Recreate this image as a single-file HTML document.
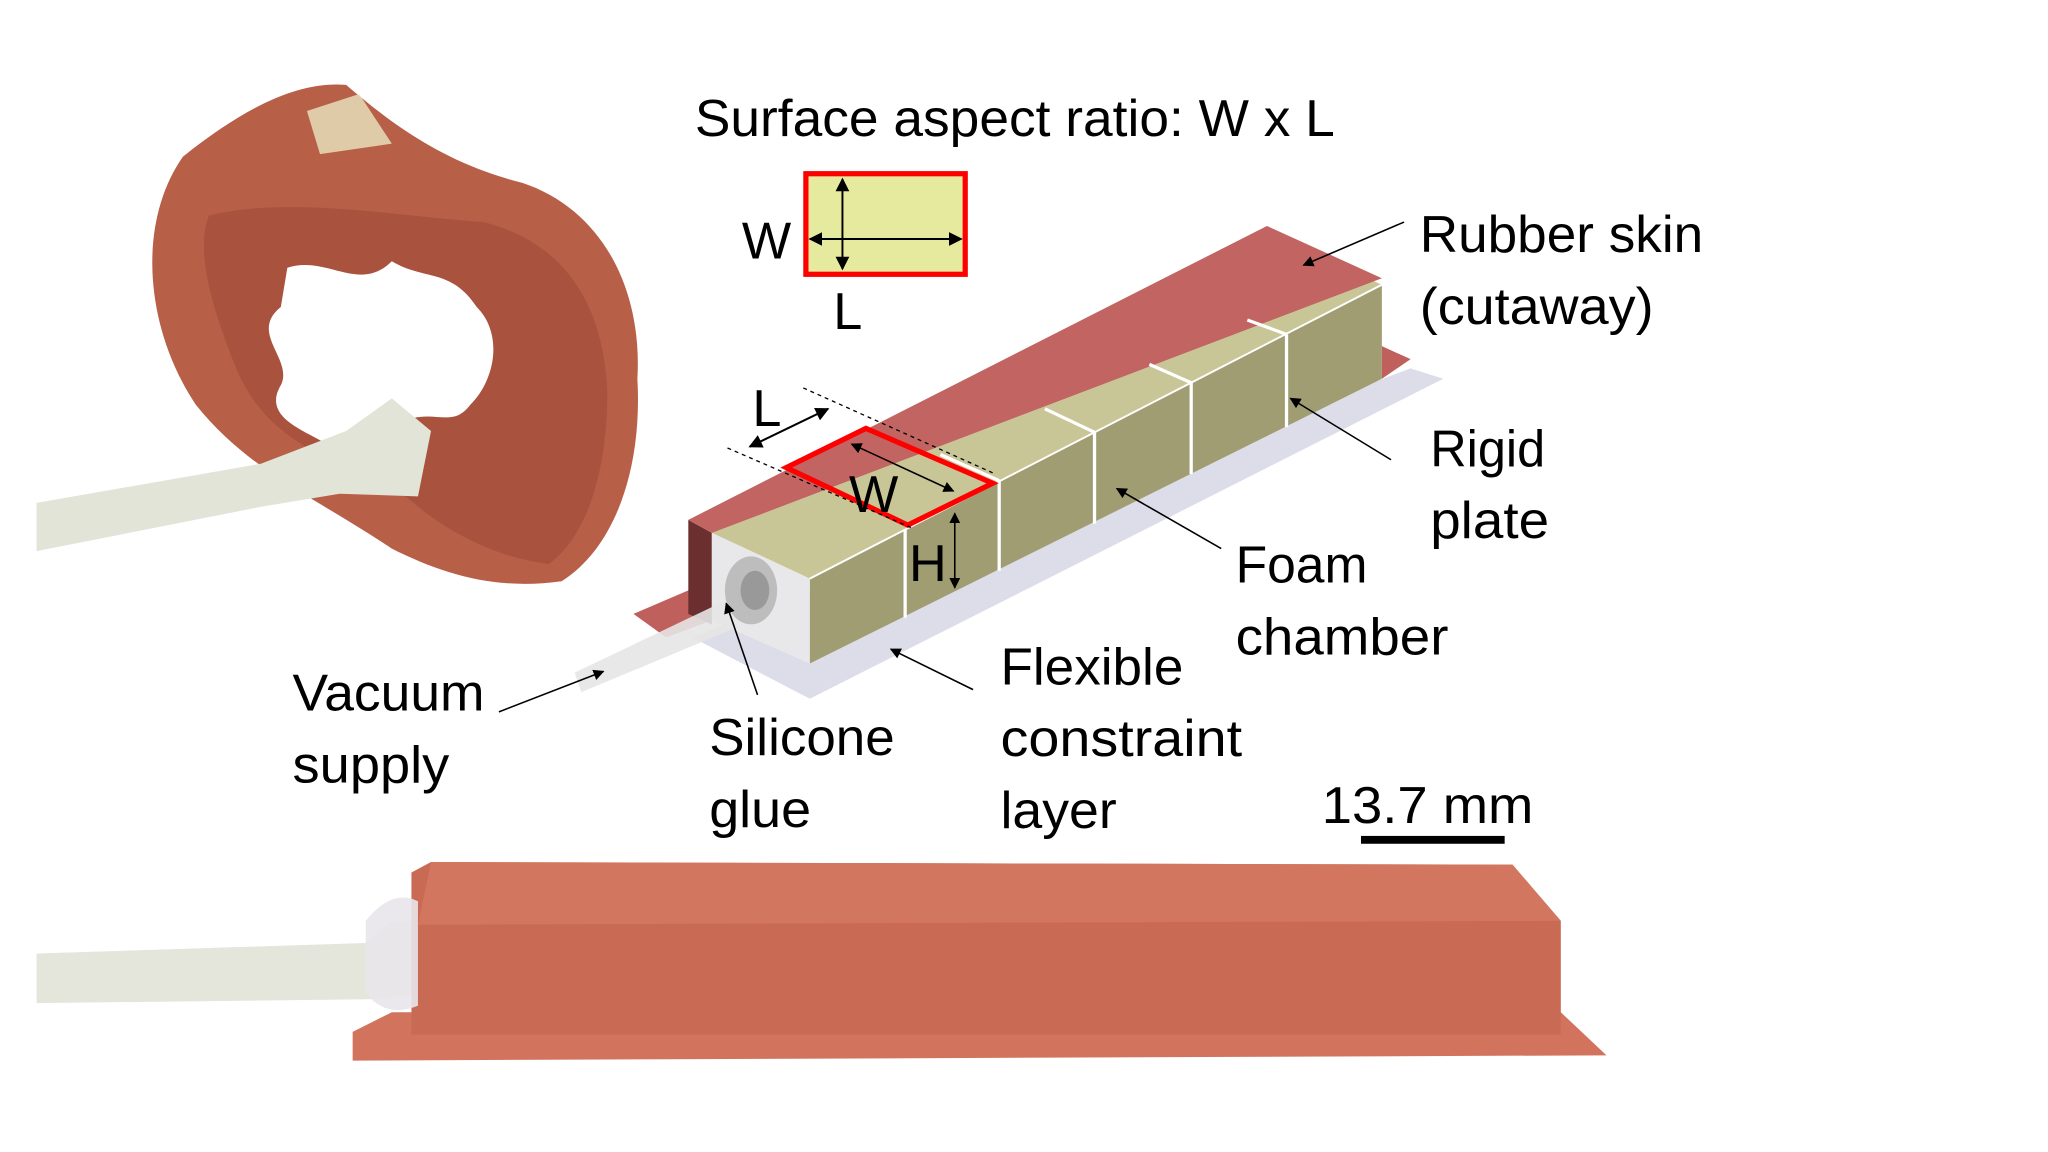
<!DOCTYPE html>
<html><head><meta charset="utf-8"><style>
html,body{margin:0;padding:0;background:#fff;}
svg{display:block}
text{font-family:"Liberation Sans",sans-serif;fill:#000;}
</style></head><body>
<svg width="2048" height="1152" viewBox="0 0 1568 882" xmlns="http://www.w3.org/2000/svg">
<defs>
<marker id="a" viewBox="0 0 10 10" refX="9" refY="5" markerWidth="7" markerHeight="7" orient="auto-start-reverse"><path d="M0,0 L10,5 L0,10 z" fill="#000"/></marker>
</defs>
<rect width="1568" height="882" fill="#fff"/>

<!-- Ring photo -->
<path d="M140,120 C190,80 230,62 265,65 C300,95 340,125 400,140 C460,160 492,220 488,290 C492,360 470,420 430,445 C380,452 340,440 300,420 C240,380 190,360 150,310 C110,250 105,170 140,120 Z" fill="#b85f48"/>
<path d="M235,85 L275,72 L300,110 L245,118 Z" fill="#e8e6c0" opacity="0.8"/>
<path d="M160,165 C220,150 300,165 370,170 C430,185 462,230 465,300 C465,360 450,410 420,432 C370,425 330,400 300,370 C240,350 200,330 180,280 C160,230 150,190 160,165 Z" fill="#a9533f"/>
<path d="M220,205 C250,195 275,225 300,200 C325,215 345,205 365,235 C385,255 380,290 360,310 C345,330 330,310 305,325 C290,300 270,350 250,340 C235,330 200,320 215,295 C225,275 190,255 215,235 Z" fill="#fff"/>
<path d="M28,385 L200,355 L265,330 L300,305 L330,330 L320,380 L260,378 L200,388 L28,422 Z" fill="#e2e4d8"/>

<!-- Title & small rect -->
<text x="532" y="104" font-size="40" textLength="490" lengthAdjust="spacingAndGlyphs">Surface aspect ratio: W x L</text>
<rect x="617" y="133" width="122" height="77" fill="#e6ea9e" stroke="#f00" stroke-width="4"/>
<line x1="645" y1="137" x2="645" y2="206" stroke="#000" stroke-width="1.5" marker-start="url(#a)" marker-end="url(#a)"/>
<line x1="620" y1="183" x2="736" y2="183" stroke="#000" stroke-width="1.5" marker-start="url(#a)" marker-end="url(#a)"/>
<text x="568" y="198" font-size="40">W</text>
<text x="638" y="252" font-size="40">L</text>

<!-- constraint layer -->
<polygon points="530,488 1080,282 1105,290 620,535" fill="#dcdde8"/>
<polygon points="485,470 527,452 545,475 510,488" fill="#c0605c"/>
<polygon points="1058,265 1080,275 1058,290" fill="#c0605c"/>
<polygon points="527,398 545,408 545,478 527,470" fill="#6a2f2e"/>
<polygon points="620,443 1058,218 1058,290 620,508" fill="#a09d73"/>
<polygon points="545,408 985,185 1058,218 620,443" fill="#c8c697"/>
<polygon points="527,398 970,173 1058,213 545,408" fill="#c26462"/>
<polygon points="545,408 620,443 620,508 545,475" fill="#e8e8ea"/>
<ellipse cx="575" cy="452" rx="20" ry="26" fill="#bdbdbd"/>
<ellipse cx="578" cy="452" rx="11" ry="15" fill="#999"/>
<polygon points="440,515 555,460 565,480 445,530" fill="#e6e6e6" opacity="0.9"/>
<g stroke="#fff" stroke-width="2.5">
<line x1="693" y1="405" x2="693" y2="473"/><line x1="765" y1="368" x2="765" y2="437"/>
<line x1="838" y1="331" x2="838" y2="401"/><line x1="912" y1="293" x2="912" y2="363"/>
<line x1="985" y1="256" x2="985" y2="327"/>
<line x1="765" y1="368" x2="720" y2="348"/><line x1="838" y1="331" x2="800" y2="313"/>
<line x1="912" y1="293" x2="880" y2="279"/><line x1="985" y1="256" x2="955" y2="245"/>
<line x1="620" y1="443" x2="1058" y2="218" stroke-width="1.5"/>
</g>
<polygon points="602,358 663,328 760,370 695,402" fill="none" stroke="#f00" stroke-width="4"/>
<line x1="557" y1="343" x2="700" y2="405" stroke="#000" stroke-width="1" stroke-dasharray="3,3"/>
<line x1="615" y1="297" x2="760" y2="362" stroke="#000" stroke-width="1" stroke-dasharray="3,3"/>
<line x1="574" y1="342" x2="634" y2="313" stroke="#000" stroke-width="1.5" marker-start="url(#a)" marker-end="url(#a)"/>
<line x1="652" y1="340" x2="730" y2="376" stroke="#000" stroke-width="1.2" marker-start="url(#a)" marker-end="url(#a)"/>
<line x1="731" y1="393" x2="731" y2="450" stroke="#000" stroke-width="1.2" marker-start="url(#a)" marker-end="url(#a)"/>
<text x="576" y="326" font-size="40">L</text>
<text x="650" y="392" font-size="40">W</text>
<text x="696" y="445" font-size="40">H</text>

<g stroke="#000" stroke-width="1.2">
<line x1="1075" y1="170" x2="998" y2="203" marker-end="url(#a)"/>
<line x1="1065" y1="352" x2="988" y2="305" marker-end="url(#a)"/>
<line x1="935" y1="420" x2="855" y2="374" marker-end="url(#a)"/>
<line x1="745" y1="528" x2="682" y2="497" marker-end="url(#a)"/>
<line x1="580" y1="532" x2="556" y2="462" marker-end="url(#a)"/>
<line x1="382" y1="545" x2="462" y2="514" marker-end="url(#a)"/>
</g>
<g font-size="40">
<text x="1087" y="193" textLength="217" lengthAdjust="spacingAndGlyphs">Rubber skin</text>
<text x="1087" y="248" textLength="179" lengthAdjust="spacingAndGlyphs">(cutaway)</text>
<text x="1095" y="357" textLength="88" lengthAdjust="spacingAndGlyphs">Rigid</text>
<text x="1095" y="412" textLength="91" lengthAdjust="spacingAndGlyphs">plate</text>
<text x="946" y="446" textLength="101" lengthAdjust="spacingAndGlyphs">Foam</text>
<text x="946" y="501" textLength="163" lengthAdjust="spacingAndGlyphs">chamber</text>
<text x="766" y="524" textLength="140" lengthAdjust="spacingAndGlyphs">Flexible</text>
<text x="766" y="579" textLength="185" lengthAdjust="spacingAndGlyphs">constraint</text>
<text x="766" y="634" textLength="89" lengthAdjust="spacingAndGlyphs">layer</text>
<text x="543" y="578" textLength="142" lengthAdjust="spacingAndGlyphs">Silicone</text>
<text x="543" y="633" textLength="78" lengthAdjust="spacingAndGlyphs">glue</text>
<text x="224" y="544" textLength="147" lengthAdjust="spacingAndGlyphs">Vacuum</text>
<text x="224" y="599" textLength="120" lengthAdjust="spacingAndGlyphs">supply</text>
<text x="1012" y="630" textLength="162" lengthAdjust="spacingAndGlyphs">13.7 mm</text>
</g>
<rect x="1042" y="640" width="110" height="6" fill="#000"/>

<!-- bottom photo -->
<path d="M28,730 L280,722 L300,705 L320,705 L320,760 L290,765 L28,768 Z" fill="#e4e6dc"/>
<polygon points="270,790 300,775 1195,775 1230,808 270,812" fill="#d2735e"/>
<polygon points="315,668 330,660 1158,662 1195,705 1195,792 315,792" fill="#c96a55"/>
<polygon points="330,660 1158,662 1195,705 320,708" fill="#d2765f"/>
<path d="M280,705 Q300,680 320,690 L320,770 Q295,780 280,760 Z" fill="#e8e6ea" opacity="0.9"/>
</svg>
</body></html>
